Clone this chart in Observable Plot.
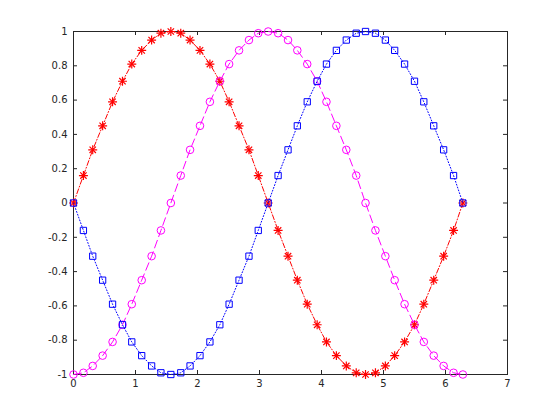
<!DOCTYPE html>
<html>
<head>
<meta charset="utf-8">
<script src="https://cdn.jsdelivr.net/npm/d3@7"></script>
<script src="https://cdn.jsdelivr.net/npm/@observablehq/plot@0.6"></script>
<style>
  html, body { margin: 0; padding: 0; background: #fff; }
  #chart { width: 560px; height: 420px; }
</style>
</head>
<body>
<div id="chart"></div>
<script>
const xValues = [0,0.16,0.31,0.47,0.63,0.79,0.94,1.10,1.26,1.41,1.57,1.73,1.88,2.04,2.20,2.36,2.51,2.67,2.83,2.98,3.14,3.30,3.46,3.61,3.77,3.93,4.08,4.24,4.40,4.56,4.71,4.87,5.03,5.18,5.34,5.50,5.65,5.81,5.97,6.13,6.28];
const redSeries = [0,0.16,0.31,0.45,0.59,0.71,0.81,0.89,0.95,0.99,1.00,0.99,0.95,0.89,0.81,0.71,0.59,0.45,0.31,0.16,0.00,-0.16,-0.31,-0.45,-0.59,-0.71,-0.81,-0.89,-0.95,-0.99,-1.00,-0.99,-0.95,-0.89,-0.81,-0.71,-0.59,-0.45,-0.31,-0.16,0.00];
const magentaSeries = [-1.00,-0.99,-0.95,-0.89,-0.81,-0.71,-0.59,-0.45,-0.31,-0.16,0.00,0.16,0.31,0.45,0.59,0.71,0.81,0.89,0.95,0.99,1.00,0.99,0.95,0.89,0.81,0.71,0.59,0.45,0.31,0.16,0.00,-0.16,-0.31,-0.45,-0.59,-0.71,-0.81,-0.89,-0.95,-0.99,-1.00];
const blueSeries = [0,-0.16,-0.31,-0.45,-0.59,-0.71,-0.81,-0.89,-0.95,-0.99,-1.00,-0.99,-0.95,-0.89,-0.81,-0.71,-0.59,-0.45,-0.31,-0.16,0.00,0.16,0.31,0.45,0.59,0.71,0.81,0.89,0.95,0.99,1.00,0.99,0.95,0.89,0.81,0.71,0.59,0.45,0.31,0.16,0.00];
const xTicks = [0,1,2,3,4,5,6,7];
const yTicks = [-1,-0.8,-0.6,-0.4,-0.2,0,0.2,0.4,0.6,0.8,1];

const red = xValues.map((x, i) => ({x, y: redSeries[i]}));
const magenta = xValues.map((x, i) => ({x, y: magentaSeries[i]}));
const blue = xValues.map((x, i) => ({x, y: blueSeries[i]}));

const W = 560, H = 420;
const mt = 31, mr = 53, mb = 46, ml = 73;
const iw = W - ml - mr, ih = H - mt - mb;
const tl = 4;
const axisColor = "#262626";

const chart = Plot.plot({
  width: W, height: H,
  marginTop: mt, marginRight: mr, marginBottom: mb, marginLeft: ml,
  style: {fontFamily: "'DejaVu Sans', sans-serif", fontSize: "10px", background: "#fff", color: axisColor},
  x: {domain: [0, 7], ticks: xTicks},
  y: {domain: [-1, 1], ticks: yTicks},
  marks: [
    Plot.axisX(xTicks, {anchor: "bottom", tickSize: 0, tickPadding: 5, tickFormat: d => String(d), label: null, fill: axisColor, fontSize: 10}),
    Plot.axisY(yTicks, {anchor: "left", tickSize: 0, tickPadding: 6, tickFormat: d => String(d), label: null, fill: axisColor, fontSize: 10}),
    Plot.tickX(xTicks, {x: d => d, insetTop: ih - tl, stroke: axisColor}),
    Plot.tickX(xTicks, {x: d => d, insetBottom: ih - tl, stroke: axisColor}),
    Plot.tickY(yTicks, {y: d => d, insetRight: iw - tl, stroke: axisColor}),
    Plot.tickY(yTicks, {y: d => d, insetLeft: iw - tl, stroke: axisColor}),
    Plot.frame({stroke: axisColor, strokeWidth: 1}),
    Plot.line(red, {x: "x", y: "y", stroke: "#ff0000", strokeWidth: 1, strokeDasharray: "5,2,1,2"}),
    Plot.dot(red, {x: "x", y: "y", symbol: "plus", r: 3, stroke: "#ff0000", strokeWidth: 1.2}),
    Plot.dot(red, {x: "x", y: "y", symbol: "times", r: 3, stroke: "#ff0000", strokeWidth: 1.2}),
    Plot.line(magenta, {x: "x", y: "y", stroke: "#ff00ff", strokeWidth: 1, strokeDasharray: "8,4"}),
    Plot.dot(magenta, {x: "x", y: "y", symbol: "circle", r: 3.8, stroke: "#ff00ff", fill: "none", strokeWidth: 1}),
    Plot.line(blue, {x: "x", y: "y", stroke: "#0000ff", strokeWidth: 1, strokeDasharray: "1,2"}),
    Plot.dot(blue, {x: "x", y: "y", symbol: "square2", r: 4, stroke: "#0000ff", fill: "none", strokeWidth: 1})
  ]
});
document.getElementById("chart").appendChild(chart);
</script>
</body>
</html>
